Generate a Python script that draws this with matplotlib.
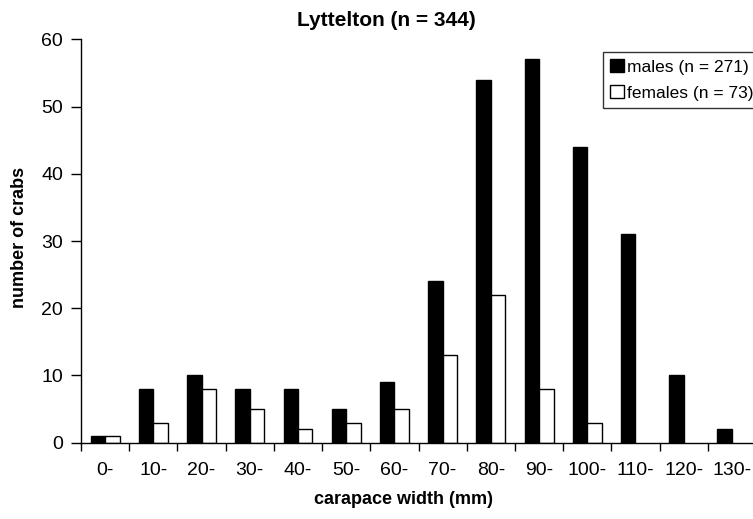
import matplotlib
matplotlib.use('Agg')
import matplotlib.pyplot as plt
import numpy as np
from matplotlib.patches import Patch

categories = ['0-', '10-', '20-', '30-', '40-', '50-', '60-', '70-',
              '80-', '90-', '100-', '110-', '120-', '130-']
males = [1, 8, 10, 8, 8, 5, 9, 24, 54, 57, 44, 31, 10, 2]
females = [1, 3, 8, 5, 2, 3, 5, 13, 22, 8, 3, 0, 0, 0]
y_ticks = [0, 10, 20, 30, 40, 50, 60]

plt.rcParams.update({
    'font.family': ['Liberation Sans', 'DejaVu Sans'],
})

fig = plt.figure(figsize=(7.53, 5.19), dpi=100)
fig.set_facecolor('white')
ax = fig.add_axes([81 / 753, 1 - 442.7 / 519, 675 / 753, (442.7 - 39.3) / 519])

x = np.arange(len(categories))
bar_width = 0.3
m = np.array(males)
f = np.array(females)
# empty classes get no bar at all (no outline on the axis)
ax.bar(x[m > 0] - bar_width / 2, m[m > 0], width=bar_width, color='black',
       edgecolor='black', linewidth=1.0)
ax.bar(x[f > 0] + bar_width / 2, f[f > 0], width=bar_width, color='white',
       edgecolor='black', linewidth=1.0)

ax.set_xlim(-0.5, len(categories) - 0.5)
ax.set_ylim(0, 60)
ax.set_yticks(y_ticks)
ax.tick_params(axis='y', labelsize=14, direction='out', length=7, width=1, pad=6)

# labels at category centres, tick marks at category boundaries
ax.set_xticks(x)
ax.set_xticklabels(categories)
ax.tick_params(axis='x', which='major', length=0, labelsize=14, pad=14)
ax.set_xticks(np.arange(len(categories) + 1) - 0.5, minor=True)
ax.tick_params(axis='x', which='minor', direction='out', length=6, width=1)

for spine in ['top', 'right']:
    ax.spines[spine].set_visible(False)
for spine in ['left', 'bottom']:
    ax.spines[spine].set_linewidth(1.0)

fig.text(386 / 753, 1 - 21 / 519, 'Lyttelton (n = 344)', ha='center', va='center',
         fontsize=15, fontweight='bold')
fig.text(403 / 753, 1 - 500 / 519, 'carapace width (mm)', ha='center', va='center',
         fontsize=13, fontweight='bold')
fig.text(20 / 753, 1 - 237 / 519, 'number of crabs', ha='center', va='center',
         rotation=90, fontsize=13, fontweight='bold')

legend_elements = [Patch(facecolor='black', edgecolor='black', label='males (n = 271)'),
                   Patch(facecolor='white', edgecolor='black', label='females (n = 73)')]
leg = fig.legend(handles=legend_elements, loc='upper left',
                 bbox_to_anchor=(603 / 753, 1 - 52 / 519), fontsize=12.5,
                 frameon=True, fancybox=False, edgecolor='black',
                 handlelength=0.8, handleheight=0.8, handletextpad=0.2,
                 borderpad=0.4, labelspacing=0.6, borderaxespad=0)
leg.get_frame().set_linewidth(1.0)

fig.savefig('out.png', dpi=100)
